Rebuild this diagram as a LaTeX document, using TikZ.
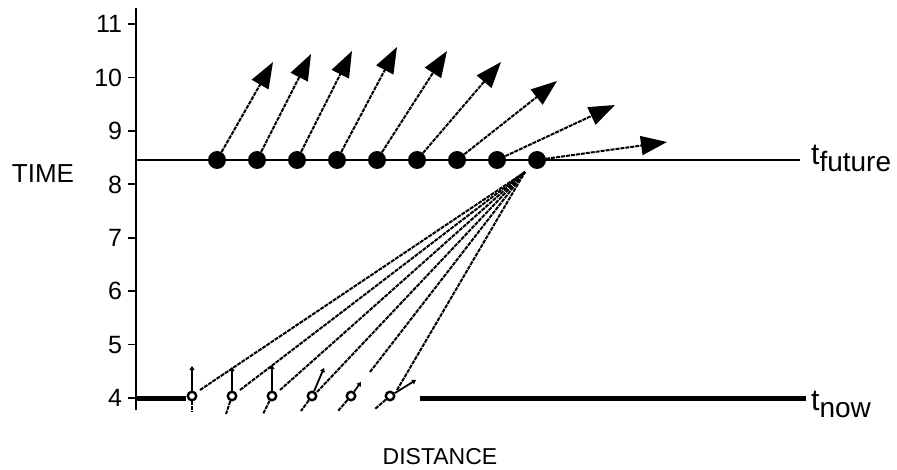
\documentclass[tikz,border=0pt]{standalone}
\usepackage{fontspec}
\setmainfont{Liberation Sans}
\usetikzlibrary{arrows.meta}
\newcommand{\tsub}[1]{\raisebox{-7pt}{\fontsize{28}{28}\selectfont #1}}

\begin{document}
\begin{tikzpicture}[
  x=1pt,y=-1pt,
  every node/.style={font=\fontsize{23}{23}\selectfont},
  ticklabel/.style={anchor=east,inner sep=0pt,font=\fontsize{25}{25}\selectfont},
  event/.style={circle,fill=black,inner sep=0pt,minimum size=18pt},
  nowevent/.style={circle,draw,fill=white,line width=2.4pt,inner sep=0pt,minimum size=8.5pt},
  worldline/.style={line width=2pt,dash pattern=on 4pt off 1pt},
  velarrow/.style={worldline,-{Triangle[length=26pt,width=19pt]}},
  smallvel/.style={line width=1.8pt,-{Triangle[length=4pt,width=5pt]}}
]
  \useasboundingbox (0,0) rectangle (897,470);

  % time axis with ticks
  \draw[line width=2pt] (136,8) -- (136,410);
  \foreach \t in {4,...,11}
    \draw[line width=1.8pt] (128,{398-(\t-4)*53.4}) -- (136,{398-(\t-4)*53.4})
      node[ticklabel] at (123,{398-(\t-4)*53.4}) {\t};
  \node[font=\fontsize{26}{26}\selectfont] (time) at (43,174) {TIME};
  \node (dist) at (440,457) {DISTANCE};

  % future time slice
  \draw[line width=2pt] (136,160) -- (800,160);
  \node[anchor=base west,inner sep=0pt,font=\fontsize{30}{30}\selectfont] (tfut) at (811,165) {t\tsub{future}};
  \foreach \k in {0,...,8}
    \node[event] (f\k) at ({217+40*\k},160) {};
  \foreach \x/\y [count=\k from 0] in {273/62,311/54,352/51,397/47,447/51,501/62,557/81,615/105,667/142}
    \coordinate (tip\k) at (\x,\y);
  \foreach \k in {0,...,8}
    \draw[velarrow] (f\k) -- (tip\k);

  % present time slice
  \draw[line width=5pt] (136,398) -- (186,398);
  \draw[line width=5pt] (420,398) -- (806,398);
  \node[anchor=base west,inner sep=0pt,font=\fontsize{30}{30}\selectfont] (tnow) at (811,410) {t\tsub{now}};
  \coordinate (conv) at (525,172);
  \foreach \x/\sx/\sy/\bx/\by/\vx/\vy [count=\k from 0] in
    {192/200/390/192/412/192/366, 232/240/390/226/414/232/367, 272/280/390/263/414/272/365,
     312/317/392/301/411/324/368, 351/370/372/338/411/361/382, 390/397/390/375/409/416/380}
  {
    \coordinate (s\k) at (\sx,\sy);
    \coordinate (b\k) at (\bx,\by);
    \coordinate (v\k) at (\vx,\vy);
    \node[nowevent] (n\k) at (\x,396) {};
  }
  \foreach \k in {0,...,5} {
    \draw[worldline] (s\k) -- (conv);
    \draw[worldline] (n\k) -- (b\k);
    \draw[smallvel] (n\k) -- (v\k);
  }
\end{tikzpicture}
\end{document}
